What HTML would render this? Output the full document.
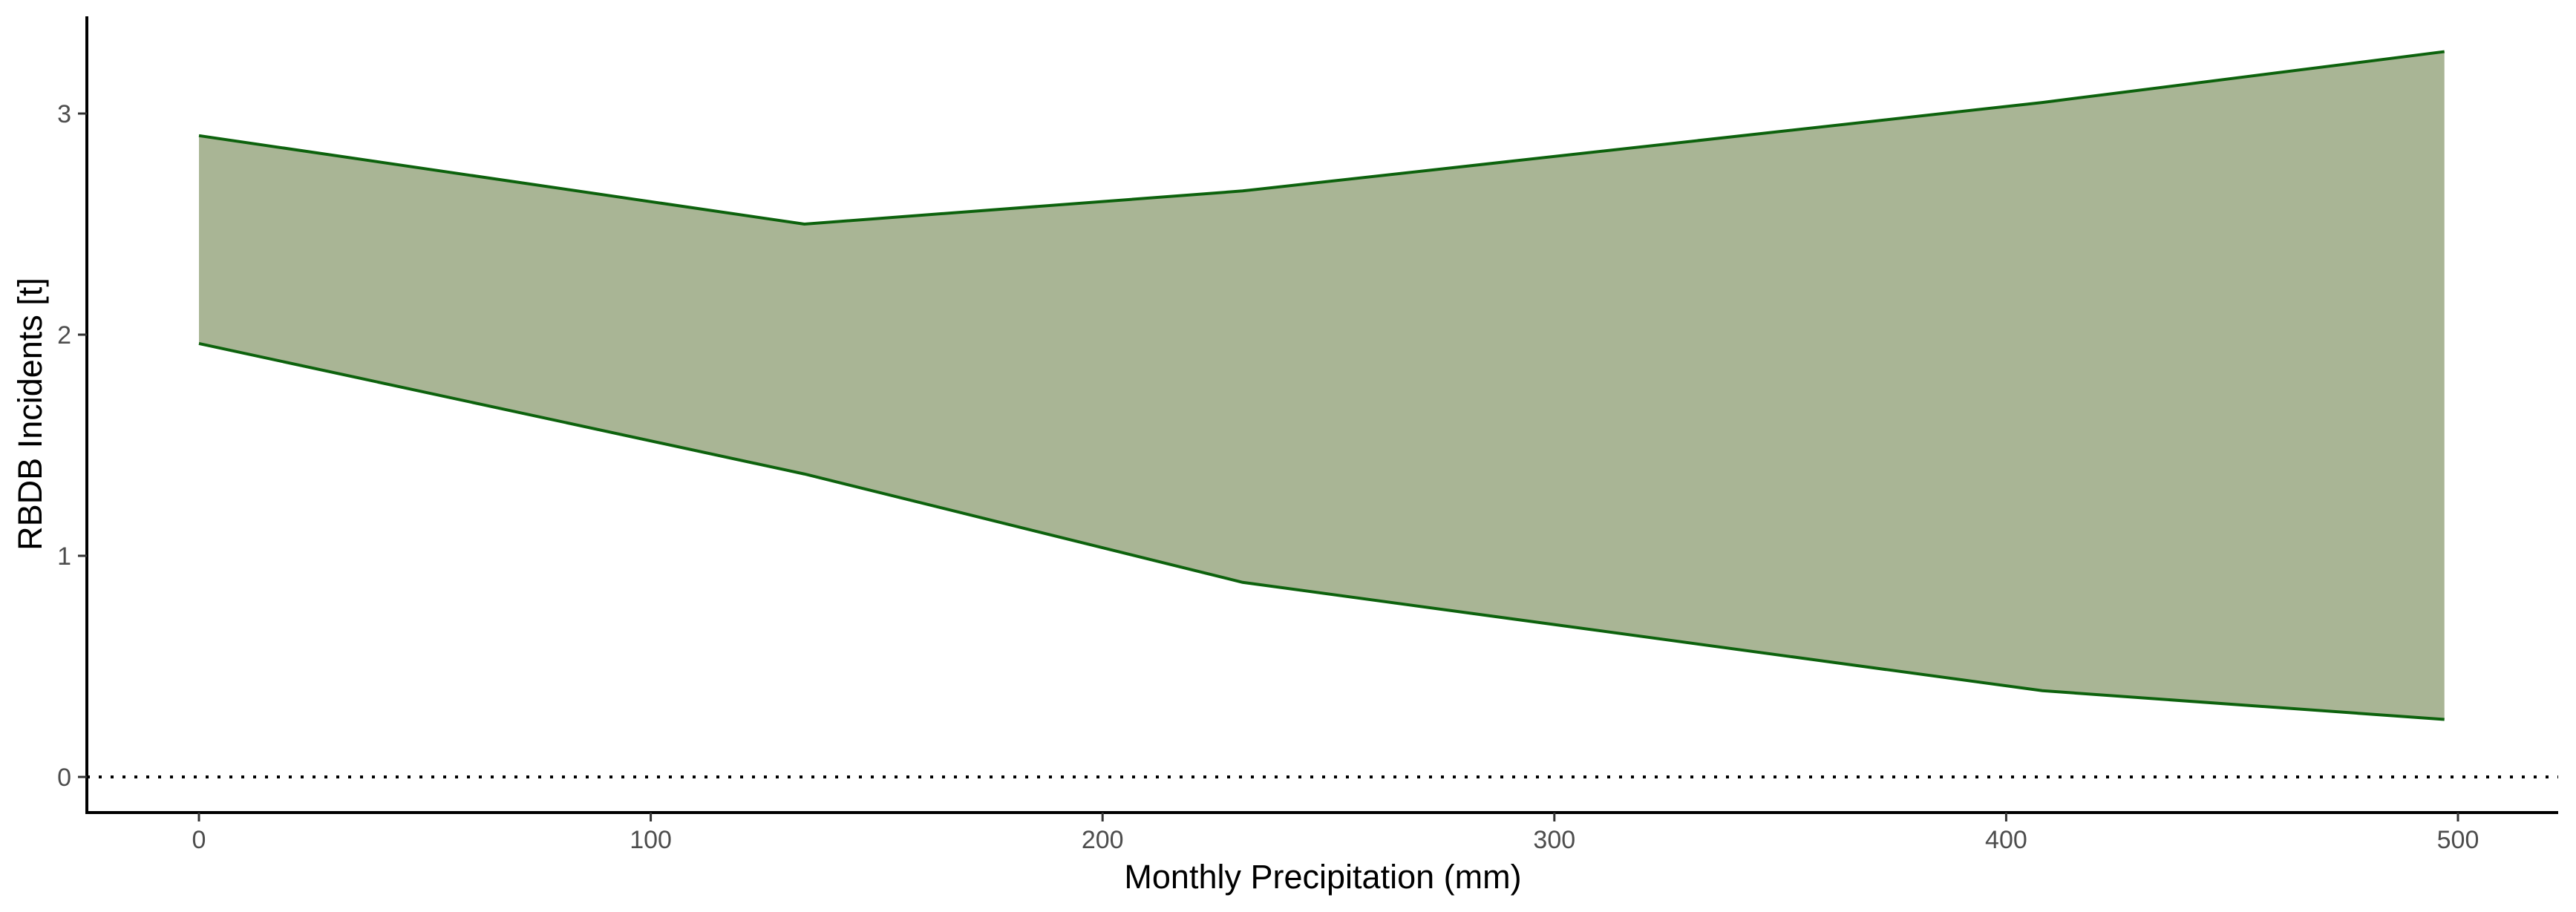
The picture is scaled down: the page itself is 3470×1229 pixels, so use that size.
<!DOCTYPE html>
<html><head><meta charset="utf-8"><style>
html,body{margin:0;padding:0;background:#fff}
svg{display:block;font-family:"Liberation Sans",sans-serif}
</style></head><body>
<svg id="chart" width="3470" height="1229" viewBox="0 0 3470 1229">
<g id="plot"></g>
</svg>
<script>
const xValues=[0,134,231,408,497];
const upperValues=[2.9,2.5,2.65,3.05,3.28];
const lowerValues=[1.96,1.37,0.88,0.39,0.26];
const xTicks=[0,100,200,300,400,500];
const yTicks=[0,1,2,3];

const NS="http://www.w3.org/2000/svg";
const g=document.getElementById('plot');
const X0=268,X1=3311,Y0=1047,Y3=153;
const sx=v=>X0+(X1-X0)*v/500;
const sy=v=>Y0+(Y3-Y0)*v/3;
function mk(tag,attrs,parent){const e=document.createElementNS(NS,tag);for(const k in attrs)e.setAttribute(k,attrs[k]);(parent||g).appendChild(e);return e;}

let up=xValues.map((x,i)=>sx(x)+','+sy(upperValues[i]));
let lo=xValues.map((x,i)=>sx(x)+','+sy(lowerValues[i])).reverse();
const band=mk('polygon',{points:up.concat(lo).join(' '),fill:'#a9b595',stroke:'none'});


const ul=mk('polyline',{points:up.join(' '),fill:'none',stroke:'#0d620d','stroke-width':4});


const ll=mk('polyline',{points:lo.join(' '),fill:'none',stroke:'#0d620d','stroke-width':4});



const zl=mk('line',{x1:117,x2:3446,y1:sy(0),y2:sy(0),stroke:'#000','stroke-width':4,'stroke-dasharray':'4 12'});



const ya=mk('line',{x1:117,x2:117,y1:22,y2:1097,stroke:'#000','stroke-width':4});


const xa=mk('line',{x1:115,x2:3446,y1:1095,y2:1095,stroke:'#000','stroke-width':4});



yTicks.forEach(v=>{
  const t=mk('line',{x1:105,x2:117,y1:sy(v),y2:sy(v),stroke:'#333','stroke-width':3});
  
  
  const l=mk('text',{x:96,y:sy(v)+12,'text-anchor':'end','font-size':34,fill:'#4d4d4d'});
  l.textContent=v;
  
  
});
xTicks.forEach(v=>{
  const t=mk('line',{x1:sx(v),x2:sx(v),y1:1095,y2:1107,stroke:'#333','stroke-width':3});
  
  
  const l=mk('text',{x:sx(v),y:1143,'text-anchor':'middle','font-size':34,fill:'#4d4d4d'});
  l.textContent=v;
  
  
});
const xt=mk('text',{x:1782,y:1197,'text-anchor':'middle','font-size':45,fill:'#000'});
xt.textContent='Monthly Precipitation (mm)';


const yt=mk('text',{x:0,y:0,'text-anchor':'middle','font-size':45,fill:'#000',transform:'translate(56,558) rotate(-90)'});
yt.textContent='RBDB Incidents [t]';


</script>
</body></html>
